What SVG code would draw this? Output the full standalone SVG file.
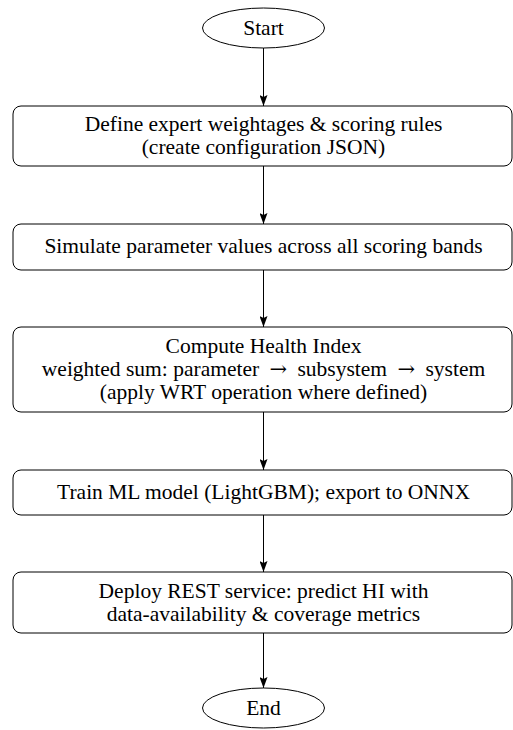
<svg xmlns="http://www.w3.org/2000/svg" width="513" height="730" viewBox="0 0 513 730">
  <defs>
    <marker id="arrow" viewBox="0 0 11 8" refX="11" refY="4" markerWidth="11" markerHeight="8" markerUnits="userSpaceOnUse" orient="auto">
      <path d="M0,0 L11,4 L0,8 L2,4 Z" fill="#000"/>
    </marker>
    <style>
      .box { fill: #fff; stroke: #000; stroke-width: 1; }
      .lbl { font-family: "Liberation Serif", "Times New Roman", serif; font-size: 21.5px; fill: #000; text-anchor: middle; }
      .sym { font-family: "DejaVu Serif", serif; font-size: 21px; }
      .edge { stroke: #000; stroke-width: 1; fill: none; marker-end: url(#arrow); }
    </style>
  </defs>
  <rect width="513" height="730" fill="#fff"/>

  <g id="connectors">
    <line class="edge" x1="263.5" y1="48" x2="263.5" y2="106"/>
    <line class="edge" x1="263.5" y1="166" x2="263.5" y2="224"/>
    <line class="edge" x1="263.5" y1="270" x2="263.5" y2="327"/>
    <line class="edge" x1="263.5" y1="412" x2="263.5" y2="470"/>
    <line class="edge" x1="263.5" y1="515" x2="263.5" y2="572"/>
    <line class="edge" x1="263.5" y1="633" x2="263.5" y2="688"/>
  </g>

  <g id="start">
    <ellipse class="box" cx="263.5" cy="28" rx="61" ry="20"/>
    <text class="lbl" x="263.5" y="35">Start</text>
  </g>

  <g id="define">
    <rect class="box" x="13" y="106" width="499" height="60" rx="8"/>
    <text class="lbl" x="263.5" y="131">Define expert weightages &amp; scoring rules</text>
    <text class="lbl" x="263.5" y="154">(create configuration JSON)</text>
  </g>

  <g id="simulate">
    <rect class="box" x="13" y="224" width="499" height="46" rx="8"/>
    <text class="lbl" x="263.5" y="253">Simulate parameter values across all scoring bands</text>
  </g>

  <g id="compute">
    <rect class="box" x="13" y="327" width="499" height="85" rx="8"/>
    <text class="lbl" x="263.5" y="353">Compute Health Index</text>
    <text class="lbl" x="263.5" y="376">weighted sum: parameter <tspan class="sym" dx="5">→</tspan><tspan dx="5"> subsystem </tspan><tspan class="sym" dx="5">→</tspan><tspan dx="5"> system</tspan></text>
    <text class="lbl" x="263.5" y="399">(apply WRT operation where defined)</text>
  </g>

  <g id="train">
    <rect class="box" x="13" y="470" width="499" height="45" rx="8"/>
    <text class="lbl" x="263.5" y="499">Train ML model (LightGBM); export to ONNX</text>
  </g>

  <g id="deploy">
    <rect class="box" x="13" y="572" width="499" height="61" rx="8"/>
    <text class="lbl" x="263.5" y="598">Deploy REST service: predict HI with</text>
    <text class="lbl" x="263.5" y="621">data-availability &amp; coverage metrics</text>
  </g>

  <g id="end">
    <ellipse class="box" cx="263.5" cy="708" rx="61" ry="20"/>
    <text class="lbl" x="263.5" y="715">End</text>
  </g>
</svg>
